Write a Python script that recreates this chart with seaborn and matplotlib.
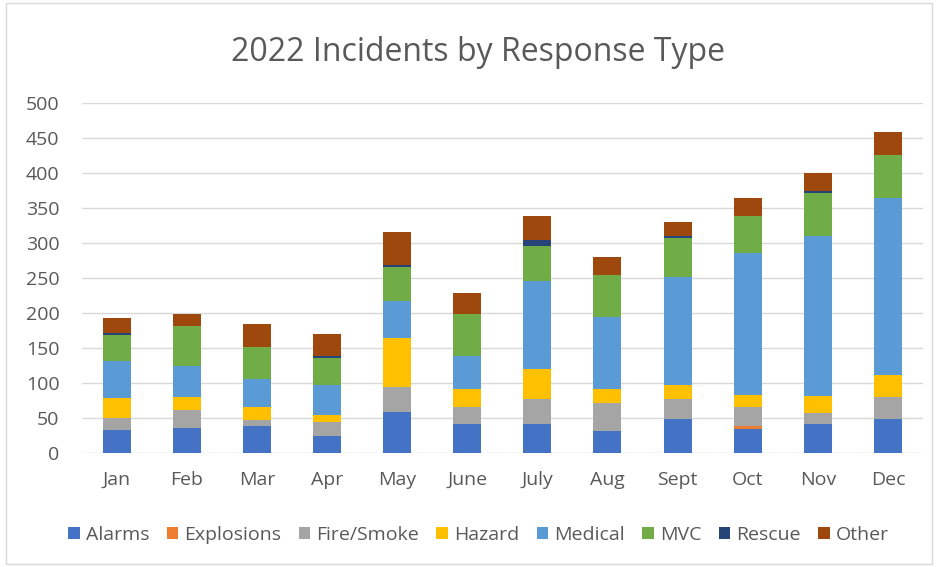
import numpy as np
import pandas as pd
import matplotlib
matplotlib.use("Agg")
import matplotlib.pyplot as plt
from matplotlib.patches import Patch, Rectangle
import seaborn as sns

months = ["Jan", "Feb", "Mar", "Apr", "May", "June", "July", "Aug", "Sept", "Oct", "Nov", "Dec"]
alarms     = [33, 36, 38, 24, 58, 41, 41, 32, 49, 35, 41, 49]
explosions = [0, 0, 0, 0, 0, 0, 0, 0, 0, 3, 0, 0]
fire_smoke = [17, 25, 9, 20, 36, 25, 36, 40, 28, 28, 16, 31]
hazard     = [28, 19, 19, 11, 71, 25, 43, 19, 20, 17, 25, 31]
medical    = [53, 45, 40, 42, 53, 48, 126, 104, 154, 203, 228, 253]
mvc        = [37, 56, 45, 39, 48, 59, 50, 59, 56, 53, 62, 62]
rescue     = [3, 0, 0, 3, 3, 0, 9, 0, 3, 0, 3, 0]
other      = [22, 17, 34, 31, 47, 31, 34, 26, 20, 25, 25, 33]

series = ["Alarms", "Explosions", "Fire/Smoke", "Hazard", "Medical", "MVC", "Rescue", "Other"]
colors = ["#4472C4", "#ED7D31", "#A5A5A5", "#FFC000", "#5B9BD5", "#70AD47", "#264478", "#9E480E"]

df = pd.DataFrame({"Alarms": alarms, "Explosions": explosions, "Fire/Smoke": fire_smoke,
                   "Hazard": hazard, "Medical": medical, "MVC": mvc,
                   "Rescue": rescue, "Other": other}, index=months)
cum = df[series].cumsum(axis=1)

sns.set_theme(style="white")
plt.rcParams["font.family"] = ["Open Sans", "DejaVu Sans"]
txt = "#595959"

fig = plt.figure(figsize=(9.38, 5.67), dpi=100)
ax = fig.add_axes([0.087, 0.201, 0.897, 0.617])

# draw cumulative totals from top series down so each lower segment overlays
for name, col in reversed(list(zip(series, colors))):
    sns.barplot(x=months, y=cum[name].values, color=col, width=0.4,
                saturation=1, linewidth=0, ax=ax, zorder=3)

ax.set_ylim(0, 500)
ax.set_yticks(range(0, 501, 50))
ax.yaxis.grid(True, color="#D9D9D9", linewidth=1, zorder=0)
ax.set_axisbelow(True)
for s in ax.spines.values():
    s.set_visible(False)
ax.tick_params(axis="both", length=0, labelsize=14, colors=txt)
ax.tick_params(axis="x", pad=13)
ax.tick_params(axis="y", pad=16)
ax.set_xlabel("")
ax.set_ylabel("")

fig.text(0.51, 0.908, "2022 Incidents by Response Type", ha="center", va="center",
         fontsize=23, color=txt)

handles = [Patch(facecolor=c, edgecolor="none") for c in colors]
fig.legend(handles, series, loc="center", bbox_to_anchor=(0.51, 0.057), ncol=8,
           frameon=False, fontsize=14, handlelength=0.6, handleheight=0.6,
           handletextpad=0.3, columnspacing=0.9, labelcolor=txt)

fig.patches.append(Rectangle((0.006, 0.006), 0.988, 0.988, transform=fig.transFigure,
                             fill=False, edgecolor="#D9D9D9", linewidth=1))

fig.savefig("out.png", dpi=100)
